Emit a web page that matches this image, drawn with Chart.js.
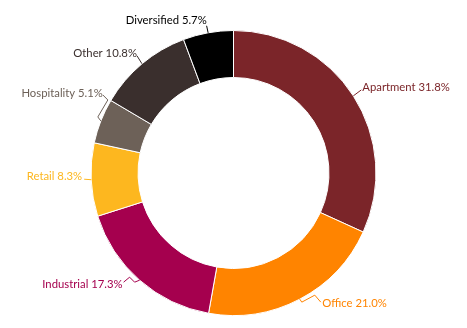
<!DOCTYPE html>
<html>
<head>
<meta charset="utf-8">
<script src="https://cdn.jsdelivr.net/npm/chart.js@4.4.1/dist/chart.umd.min.js"></script>
<style>
  html, body { margin: 0; padding: 0; background: #fff; }
  #wrap { width: 467px; height: 328px; position: relative; }
</style>
</head>
<body>
<div id="wrap"><canvas id="mix"></canvas></div>
<script>
// ---------------- DATA ----------------
const sectors = ['Apartment', 'Office', 'Industrial', 'Retail', 'Hospitality', 'Other', 'Diversified'];
const shares = [31.8, 21.0, 17.3, 8.3, 5.1, 10.8, 5.7];
const sectorColors = ['#7b2529', '#ff8400', '#a5004e', '#fdb71f', '#6d6158', '#3a2f2d', '#000000'];

// label placement relative to the outer mid point of each slice
// pts: leader bend points, tx/ty: text anchor (baseline), align: side
const labelLayout = [
  { pts: [[8, -6]], tx: 9, ty: -4.8, align: 'left' },
  { pts: [[2, 3], [15, -4], [21, 3]], tx: 22.5, ty: 7.4, align: 'left' },
  { pts: [[-5, 2], [-10, -3], [-16, 2]], tx: -17, ty: 8, align: 'right' },
  { pts: [[-7, -0.5]], tx: -9, ty: 0, align: 'right' },
  { pts: [[-3, -4], [7, -21], [2, -26]], tx: 2, ty: -23.7, align: 'right' },
  { pts: [[-5, -8]], tx: -5, ty: -6.8, align: 'right' },
  { pts: [[-1.5, -7]], tx: -1.4, ty: -9, align: 'right' }
];

// -------- OUTSIDE LABELS --------
const outsideLabels = {
  id: 'outsideLabels',
  afterDatasetsDraw(chart) {
    const ctx = chart.ctx;
    const meta = chart.getDatasetMeta(0);
    ctx.save();
    ctx.font = '11.3px Lato, sans-serif';
    ctx.textBaseline = 'alphabetic';
    meta.data.forEach((arc, i) => {
      const p = arc.getProps(['x', 'y', 'startAngle', 'endAngle', 'outerRadius'], true);
      const mid = (p.startAngle + p.endAngle) / 2;
      const ax = p.x + Math.cos(mid) * p.outerRadius;
      const ay = p.y + Math.sin(mid) * p.outerRadius;
      const lay = labelLayout[i];

      ctx.strokeStyle = sectorColors[i];
      ctx.lineWidth = 1;
      ctx.beginPath();
      ctx.moveTo(ax, ay);
      lay.pts.forEach(q => ctx.lineTo(ax + q[0], ay + q[1]));
      ctx.stroke();

      ctx.fillStyle = sectorColors[i];
      ctx.textAlign = lay.align;
      ctx.fillText(sectors[i] + ' ' + shares[i].toFixed(1) + '%', ax + lay.tx, ay + lay.ty);
    });
    ctx.restore();
  }
};

new Chart(document.getElementById('mix'), {
  type: 'doughnut',
  data: {
    labels: sectors,
    datasets: [{
      data: shares,
      backgroundColor: sectorColors,
      borderColor: '#ffffff',
      borderWidth: 1
    }]
  },
  options: {
    responsive: true,
    maintainAspectRatio: false,
    animation: false,
    cutout: '67%',
    layout: { padding: { top: 30, bottom: 12 } },
    plugins: {
      legend: { display: false },
      tooltip: { enabled: false }
    }
  },
  plugins: [outsideLabels]
});
</script>
</body>
</html>
